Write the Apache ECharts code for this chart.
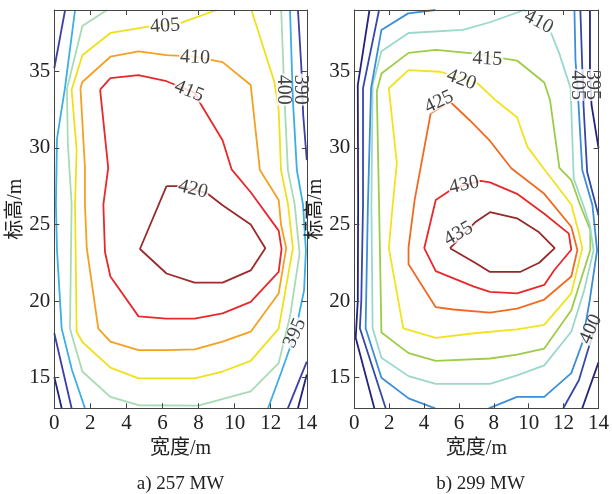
<!DOCTYPE html>
<html><head><meta charset="utf-8">
<script src="https://cdn.jsdelivr.net/npm/echarts@6/dist/echarts.min.js"></script>
<style>html,body{margin:0;padding:0;background:#fff}#c{width:612px;height:494px}</style>
</head><body><div id="c"></div>
<script>
// ---- ticks ----
const xTicks = [0, 2, 4, 6, 8, 10, 12, 14];
const yTicks = [15, 20, 25, 30, 35];
const xRange = [0, 14];
const yRange = [13, 39];

// ---- panel a) 257 MW : contour polylines [width m, elevation m] ----
const a420 = [[6.22,27.5],[7.0,27.5],[8.45,27.05],[9.33,26.25],[10.89,25.0],[11.7,23.45],[10.89,22.0],[9.33,21.2],[7.78,21.2],[6.22,21.8],[4.75,23.4],[6.22,27.5]];
const a415 = [[2.54,33.8],[3.11,34.55],[4.67,34.75],[6.22,34.35],[7.78,33.6],[8.1,32.9],[9.33,30.5],[9.83,28.6],[10.89,27.1],[12.44,24.6],[12.6,23.4],[12.44,21.9],[10.89,19.95],[9.33,19.2],[7.78,18.85],[6.22,18.85],[4.67,19.0],[3.11,21.6],[2.81,23.2],[2.72,26.3],[2.99,28.7],[2.54,33.8]];
const a410 = [[1.45,33.9],[1.556,34.3],[3.11,35.95],[4.67,36.3],[6.22,36.05],[7.78,35.95],[8.45,35.8],[9.33,35.6],[10.89,34.1],[11.4,28.55],[12.44,26.6],[12.57,25.0],[12.86,23.45],[12.44,20.5],[10.89,18.0],[9.33,17.35],[7.78,16.85],[6.22,16.8],[4.67,16.8],[3.11,17.35],[2.44,18.2],[1.8,23.45],[1.7,26.3],[1.7,28.7],[1.45,33.9]];
const a405 = [[9.0,39],[7.06,38.17],[5.12,37.9],[3.11,37.5],[1.556,36.05],[0.96,33.8],[1.24,29.85],[1.15,26.3],[1.24,18.0],[1.556,17.33],[3.11,15.65],[4.67,14.95],[7.78,14.95],[9.33,15.4],[10.89,16.1],[12.44,18.2],[12.95,21.6],[13.23,23.45],[12.96,26.3],[12.57,28.55],[12.44,32.5],[12.2,34.3],[10.93,39]];
const a400 = [[2.92,39],[1.556,37.95],[0.7,33.85],[0.75,30.3],[0.96,26.3],[0.87,18.2],[1.556,15.4],[3.11,13.75],[4.67,13.2],[7.98,13.17],[10.89,14.1],[12.44,15.95],[13.07,19.0],[13.6,23.1],[13.33,26.3],[12.95,28.55],[12.78,32.8],[12.58,39]];
const a395L = [[1.15,39],[0.59,33.9],[0.15,30.6],[0.09,26.3],[0.15,23.3],[0.41,18.2],[0.98,15.5],[1.7,13]];
const a395R = [[13.07,39],[13.23,33.1],[13.45,28.55],[13.79,26.3],[13.95,23.3],[13.85,20.7],[13.35,17.9],[12.6,15.4],[11.85,13]];
const a390TL = [[0,35.2],[0.6,39]];
const a390TR = [[13.51,39],[13.7,35.2],[13.8,32.15],[14,29.2]];
const a390BL = [[0,17.9],[0.96,13]];
const a390BR = [[14,16.05],[12.95,13]];
const a385BL = [[0,15.05],[0.41,13]];
const a385BR = [[14,15.2],[13.51,13]];
// contour labels of panel a: [x, y, level]
const labelsA = [[6.14,37.95,405],[7.8,35.9,410],[7.47,33.7,415],[7.69,27.3,420],[12.68,33.8,400],[13.65,33.8,390],[13.34,17.9,395]];

// ---- panel b) 299 MW ----
const b435 = [[5.49,23.45],[6.97,22.47],[7.78,21.9],[9.5,21.9],[10.6,22.5],[11.49,23.45],[10.55,24.53],[9.33,25.4],[7.78,25.8],[6.97,25.18],[5.49,23.45]];
const b430 = [[4.01,23.45],[4.67,26.6],[5.68,27.36],[7.24,27.84],[7.78,27.75],[9.33,27.0],[10.89,25.7],[12.3,24.4],[12.44,23.35],[11.47,22.03],[10.89,21.05],[9.33,20.5],[7.78,20.6],[6.86,20.94],[4.67,21.95],[4.01,23.45]];
const b425 = [[4.38,32.26],[3.46,26.6],[3.11,23.5],[3.11,22.4],[4.67,19.6],[5.68,19.45],[7.78,19.25],[9.33,19.5],[10.89,20.1],[12.44,21.6],[12.79,23.33],[12.44,24.85],[10.89,27.0],[9.0,28.67],[7.78,30.45],[6.6,31.82],[5.49,33.01],[4.38,32.26]];
const b420 = [[4.93,34.97],[3.11,35.08],[1.98,33.89],[2.44,29.0],[2.2,26.27],[1.98,23.45],[2.81,18.22],[4.67,17.6],[6.86,17.9],[9.33,18.15],[10.89,18.45],[12.44,20.5],[13.07,23.45],[12.88,24.42],[12.44,26.3],[10.89,28.6],[9.92,30.08],[9.33,32.0],[8.08,33.13],[7.06,34.22],[4.93,34.97]];
const b415 = [[6.78,36.17],[4.67,36.4],[3.11,36.2],[1.556,34.85],[1.29,33.7],[1.42,26.27],[1.556,17.95],[3.11,16.6],[4.67,16.1],[7.78,16.25],[9.33,16.5],[10.89,16.9],[12.44,19.4],[13.53,23.33],[13.53,24.64],[12.95,26.27],[12.44,27.9],[11.76,28.69],[11.22,33.13],[10.89,34.27],[9.33,35.7],[8.71,35.81],[6.78,36.17]];
const b410 = [[9.74,39],[7.78,38.2],[6.22,37.7],[3.11,37.5],[1.556,36.3],[1.05,34.1],[0.98,26.27],[1.05,18.22],[1.556,16.3],[3.11,15.1],[4.67,14.6],[7.78,14.6],[9.33,15.15],[10.89,15.8],[12.44,18.0],[13.18,20.7],[13.72,23.33],[13.5,24.97],[13.12,26.27],[12.58,28.0],[12.4,33.9],[11.75,36.17],[11.29,37.48],[10.6,38.3],[9.74,39]];
const b405L = [[4.66,39],[3.09,38.78],[1.556,37.7],[0.96,33.89],[0.78,26.27],[0.65,18.22],[1.556,15.0],[3.11,13.65],[4.64,13]];
const b405R = [[7.71,13],[9.33,13.75],[10.89,13.75],[12.44,15.3],[13.07,17.26],[13.5,20.07],[13.92,23.33],[13.65,26.27],[13.07,28.56],[12.84,33.13],[12.68,35.74],[12.62,39]];
const b400L = [[1.42,39],[0.5,33.9],[0.5,26.27],[0.4,20.0],[0.32,18.22],[1.8,13]];
const b400TR = [[12.96,39],[13.14,32.8],[13.35,28.43],[14,25.6]];
const b400BR = [[14,18.9],[13.45,17.02],[12.88,14.85],[11.98,13]];
const b395L = [[0.87,39],[0.2,34.1],[0.22,26.27],[0.2,20.0],[0.08,17.6],[1.15,13]];
const b395TR = [[13.51,39],[13.51,35.2],[13.6,32.8],[14,30.0]];
const b395BR = [[14,16.0],[13.07,13]];
const labelsB = [[10.57,38.22,410],[7.63,35.8,415],[6.14,34.45,420],[4.86,33.0,425],[6.3,27.58,430],[5.97,24.4,435],[12.78,34.1,405],[13.65,34.1,395],[13.56,18.17,400]];

// ---- styles ----
const colorA = {420:'#9c2a2a',415:'#e8282a',410:'#f5a020',405:'#f0e01a',400:'#a8dab4',395:'#3aaee6',390:'#3b3fa6',385:'#22227a'};
const colorB = {435:'#962828',430:'#e8282a',425:'#f26a22',420:'#f3e21c',415:'#9ccc48',410:'#9ad8cc',405:'#3a8fd8',400:'#3548a8',395:'#23237e'};
const rotA = [4,-3,-22,-14,-90,-90,66];
const rotB = [-28,-3,-20,26,12,30,-90,-90,66];

const linesA = [[420,a420],[415,a415],[410,a410],[405,a405],[400,a400],[395,a395L],[395,a395R],[390,a390TL],[390,a390TR],[390,a390BL],[390,a390BR],[385,a385BL],[385,a385BR]];
const linesB = [[435,b435],[430,b430],[425,b425],[420,b420],[415,b415],[410,b410],[405,b405L],[405,b405R],[400,b400L],[400,b400TR],[400,b400BR],[395,b395L],[395,b395TR],[395,b395BR]];

const FONT = '"Liberation Serif", "Times New Roman", "Noto Sans CJK SC", serif';
const AX = '#444';

function xAxes(gi) {
  const base = {gridIndex: gi, type: 'value', min: xRange[0], max: xRange[1], interval: 2, z: 10,
    splitLine: {show: false},
    axisLine: {show: true, onZero: false, lineStyle: {color: AX, width: 1}},
    axisTick: {show: true, inside: true, length: 5, lineStyle: {color: AX, width: 1}}};
  return [
    Object.assign({}, base, {position: 'bottom',
      axisLabel: {show: true, margin: 5, fontFamily: FONT, fontSize: 21, color: '#222'},
      name: '宽度/m', nameLocation: 'middle', nameGap: 26,
      nameTextStyle: {fontFamily: FONT, fontSize: 20, color: '#222'}}),
    Object.assign({}, base, {position: 'top', axisLabel: {show: false}})
  ];
}
function yAxes(gi) {
  const base = {gridIndex: gi, type: 'value', min: yRange[0], max: yRange[1], z: 10,
    splitLine: {show: false},
    axisLine: {show: true, onZero: false, lineStyle: {color: AX, width: 1}},
    axisTick: {show: true, inside: true, length: 5, customValues: yTicks, lineStyle: {color: AX, width: 1}}};
  return [
    Object.assign({}, base, {position: 'left',
      axisLabel: {show: true, margin: 4, customValues: yTicks, fontFamily: FONT, fontSize: 21, color: '#222'},
      name: '标高/m', nameLocation: 'middle', nameGap: 24, nameRotate: 90,
      nameTextStyle: {fontFamily: FONT, fontSize: 20, color: '#222'}}),
    Object.assign({}, base, {position: 'right', axisLabel: {show: false}})
  ];
}

function lineSeries(list, colors, axisIdx) {
  return list.map(([lv, pts]) => ({
    type: 'line', xAxisIndex: axisIdx, yAxisIndex: axisIdx, data: pts,
    showSymbol: false, symbol: 'none', silent: true, z: 2,
    lineStyle: {color: colors[lv], width: 1.8}
  }));
}
function labelSeries(list, rots, axisIdx) {
  return {
    type: 'scatter', xAxisIndex: axisIdx, yAxisIndex: axisIdx, symbolSize: 0, silent: true, z: 5,
    data: list.map((d, i) => ({value: [d[0], d[1]], name: String(d[2]), label: {rotate: rots[i]}})),
    label: {show: true, position: 'inside', formatter: p => p.name, fontFamily: FONT, fontSize: 20,
      color: '#111', backgroundColor: '#fff', lineHeight: 13, padding: [0, 1]}
  };
}

const chart = echarts.init(document.getElementById('c'), null, {renderer: 'canvas'});
chart.setOption({
  backgroundColor: '#fff',
  animation: false,
  grid: [
    {left: 54.3, top: 10, width: 252.5, height: 398.3},
    {left: 354.3, top: 10, width: 252.5, height: 398.3}
  ],
  title: [
    {text: 'a) 257 MW', left: 180.5, top: 475, padding: 0, textAlign: 'center',
      textStyle: {fontFamily: FONT, fontSize: 19, fontWeight: 'normal', color: '#222'}},
    {text: 'b) 299 MW', left: 480.5, top: 475, padding: 0, textAlign: 'center',
      textStyle: {fontFamily: FONT, fontSize: 19, fontWeight: 'normal', color: '#222'}}
  ],
  xAxis: [...xAxes(0), ...xAxes(1)],
  yAxis: [...yAxes(0), ...yAxes(1)],
  series: [
    ...lineSeries(linesA, colorA, 0),
    labelSeries(labelsA, rotA, 0),
    ...lineSeries(linesB, colorB, 2),
    labelSeries(labelsB, rotB, 2)
  ]
});
</script></body></html>
